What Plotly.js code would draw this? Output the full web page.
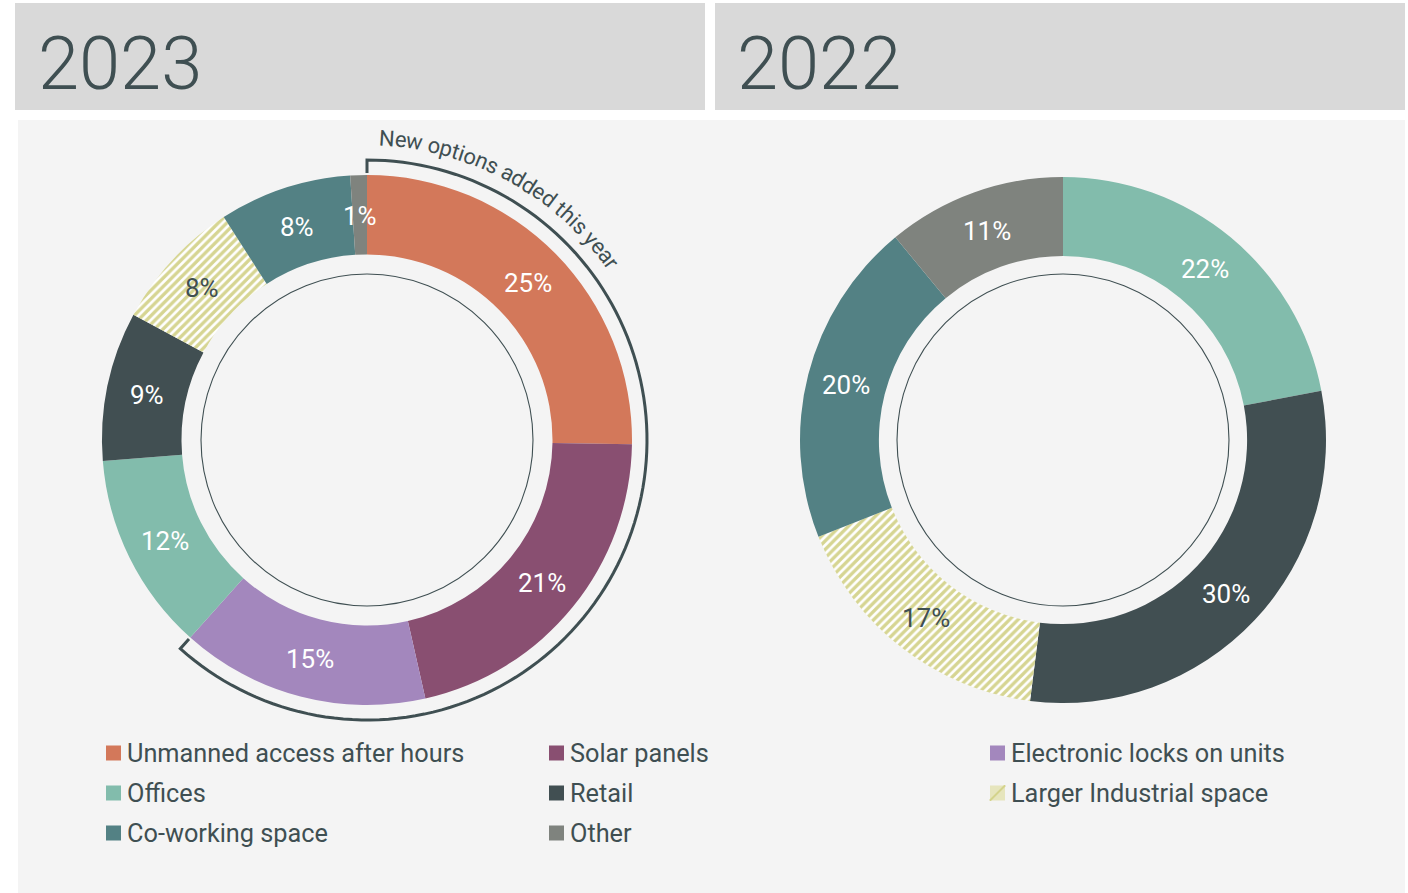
<!DOCTYPE html>
<html><head><meta charset="utf-8">
<script src="https://cdn.plot.ly/plotly-3.0.1.min.js"></script>
<style>html,body{margin:0;padding:0;background:#fff;} #chart{width:1408px;height:893px;}</style>
</head><body><div id="chart"></div>
<script>
// ---------------- DATA ----------------
const yearTitles = ['2023', '2022'];
const labels2023 = ['Unmanned access after hours', 'Solar panels', 'Electronic locks on units', 'Offices', 'Retail', 'Larger Industrial space', 'Co-working space', 'Other'];
const values2023 = [25, 21, 15, 12, 9, 8, 8, 1];
const labels2022 = ['Offices', 'Retail', 'Larger Industrial space', 'Co-working space', 'Other'];
const values2022 = [22, 30, 17, 20, 11];
const newOptionsNote = 'New options added this year';

// ---------------- STYLE ----------------
const labelColors = {
  'Unmanned access after hours': '#d3785a',
  'Solar panels': '#894f71',
  'Electronic locks on units': '#a387bd',
  'Offices': '#82bcac',
  'Retail': '#414f52',
  'Larger Industrial space': '#d6d592',
  'Co-working space': '#538184',
  'Other': '#7f837e'
};
const hatched = 'Larger Industrial space';
const INK = '#3f4f52';
const FONT = 'Roboto, "Noto Sans", sans-serif';

const W = 1408, H = 893;
const px = x => x / W;
const py = y => 1 - y / H;
const HOLE = 0.70;
const donuts = [
  {labels: labels2023, values: values2023, cx: 367, cy: 440, r: 265},
  {labels: labels2022, values: values2022, cx: 1063, cy: 440, r: 263}
];

const traces = [];
const annotations = [];
const shapes = [];

// panels
shapes.push({type:'rect', xref:'paper', yref:'paper', layer:'below', x0:px(15), x1:px(705), y0:py(110), y1:py(3), fillcolor:'#d9d9d9', line:{width:0}});
shapes.push({type:'rect', xref:'paper', yref:'paper', layer:'below', x0:px(715), x1:px(1405), y0:py(110), y1:py(3), fillcolor:'#d9d9d9', line:{width:0}});
shapes.push({type:'rect', xref:'paper', yref:'paper', layer:'below', x0:px(18), x1:px(1405), y0:py(893), y1:py(120), fillcolor:'#f4f4f4', line:{width:0}});

// year headers
[36, 735].forEach((x, i) => {
  annotations.push({xref:'paper', yref:'paper', x:px(x), y:py(63), xanchor:'left', yanchor:'middle', showarrow:false,
    text: yearTitles[i], font:{family:FONT, size:74, color:INK, weight:300}});
});

donuts.forEach(d => {
  const total = d.values.reduce((a, b) => a + b, 0);
  traces.push({
    type:'pie', labels:d.labels, values:d.values, hole:HOLE, sort:false, direction:'clockwise', rotation:0,
    textinfo:'none', hoverinfo:'label+percent', showlegend:false,
    domain:{x:[px(d.cx - d.r), px(d.cx + d.r)], y:[py(d.cy + d.r), py(d.cy - d.r)]},
    marker:{
      colors: d.labels.map(l => l === hatched ? '#ffffff' : labelColors[l]),
      line:{width:0},
      pattern:{
        shape: d.labels.map(l => l === hatched ? '/' : ''),
        fgcolor: labelColors[hatched], bgcolor: '#ffffff', size: 6, solidity: 0.55, fillmode:'replace'
      }
    }
  });
  // inner thin circle
  const rc = 166;
  shapes.push({type:'circle', xref:'paper', yref:'paper', x0:px(d.cx - rc), x1:px(d.cx + rc), y0:py(d.cy + rc), y1:py(d.cy - rc), line:{color:INK, width:1.1}});
  // value labels
  let cum = 0;
  const Rm = d.r * (1 + HOLE) / 2;
  d.values.forEach((v, i) => {
    const th = (cum + v / 2) / total * 2 * Math.PI;
    cum += v;
    annotations.push({xref:'paper', yref:'paper', x:px(d.cx + Rm * Math.sin(th)), y:py(d.cy - Rm * Math.cos(th) + 1),
      xanchor:'center', yanchor:'middle', showarrow:false, text: v + '%',
      font:{family:FONT, size:26, color: d.labels[i] === hatched ? INK : '#ffffff', weight:400}});
  });
});

// bracket around new options (2023 labels absent in 2022)
(function(){
  const d = donuts[0];
  const total = d.values.reduce((a, b) => a + b, 0);
  let cum = 0, a0 = null, a1 = null;
  d.labels.forEach((l, i) => {
    const isNew = labels2022.indexOf(l) < 0;
    if (isNew && a0 === null) a0 = cum / total;
    cum += d.values[i];
    if (isNew) a1 = cum / total;
  });
  const rB = 280, rT = 267;
  const pt = (r, f) => { const t = f * 2 * Math.PI; return [px(d.cx + r * Math.sin(t)), py(d.cy - r * Math.cos(t))]; };
  let p = pt(rT, a0);
  let path = 'M' + p[0] + ',' + p[1];
  const n = 120;
  for (let k = 0; k <= n; k++) { p = pt(rB, a0 + (a1 - a0) * k / n); path += ' L' + p[0] + ',' + p[1]; }
  p = pt(rT, a1); path += ' L' + p[0] + ',' + p[1];
  shapes.push({type:'path', xref:'paper', yref:'paper', path:path, line:{color:INK, width:3}});

  // curved note text
  const fs = 22, spacing = 0;
  const cv = document.createElement('canvas').getContext('2d');
  cv.font = '400 ' + fs + 'px Roboto';
  const Rt = 302;
  const startAng = 2.3 * Math.PI / 180;
  const s0 = startAng * Rt;
  for (let i = 0; i < newOptionsNote.length; i++) {
    const ch = newOptionsNote[i];
    if (ch === ' ') continue;
    const off = cv.measureText(newOptionsNote.slice(0, i)).width + i * spacing + cv.measureText(ch).width / 2;
    const th = (s0 + off) / Rt;
    annotations.push({xref:'paper', yref:'paper', x:px(d.cx + Rt * Math.sin(th)), y:py(d.cy - Rt * Math.cos(th)),
      xanchor:'center', yanchor:'middle', showarrow:false, text: ch, textangle: th * 180 / Math.PI,
      font:{family:FONT, size:fs, color:INK}});
  }
})();

// legend (manual, row-wise in order of first appearance)
const legendLabels = labels2023.concat(labels2022.filter(l => labels2023.indexOf(l) < 0));
const colX = [106, 549, 990], rowY = [753, 793, 833], sw = 15;
legendLabels.forEach((l, i) => {
  const x = colX[i % 3], y = rowY[Math.floor(i / 3)];
  if (l === hatched) {
    shapes.push({type:'rect', xref:'paper', yref:'paper', x0:px(x), x1:px(x + sw), y0:py(y + sw / 2), y1:py(y - sw / 2), fillcolor:'#e6e5bd', line:{width:0}});
    for (let k = 3; k < 2 * sw; k += 5) {
      const x0 = k <= sw ? x : x + (k - sw), y0 = k <= sw ? y + sw / 2 - k : y - sw / 2;
      const x1 = k <= sw ? x + k : x + sw, y1 = k <= sw ? y + sw / 2 : y + sw / 2 - (k - sw);
      shapes.push({type:'line', xref:'paper', yref:'paper', x0:px(x0), y0:py(y1), x1:px(x1), y1:py(y0), line:{color:'#d4d38c', width:1.6}});
    }
  } else {
    shapes.push({type:'rect', xref:'paper', yref:'paper', x0:px(x), x1:px(x + sw), y0:py(y + sw / 2), y1:py(y - sw / 2), fillcolor:labelColors[l], line:{width:0}});
  }
  annotations.push({xref:'paper', yref:'paper', x:px(x + sw + 4), y:py(y), xanchor:'left', yanchor:'middle', showarrow:false,
    text:l, font:{family:FONT, size:25.3, color:INK, weight:400}});
});

const layout = {
  width:W, height:H, margin:{l:0, r:0, t:0, b:0, pad:0, autoexpand:false},
  paper_bgcolor:'#ffffff', plot_bgcolor:'#ffffff', showlegend:false,
  shapes:shapes, annotations:annotations
};
Plotly.newPlot('chart', traces, layout, {displayModeBar:false, staticPlot:true});
</script></body></html>
